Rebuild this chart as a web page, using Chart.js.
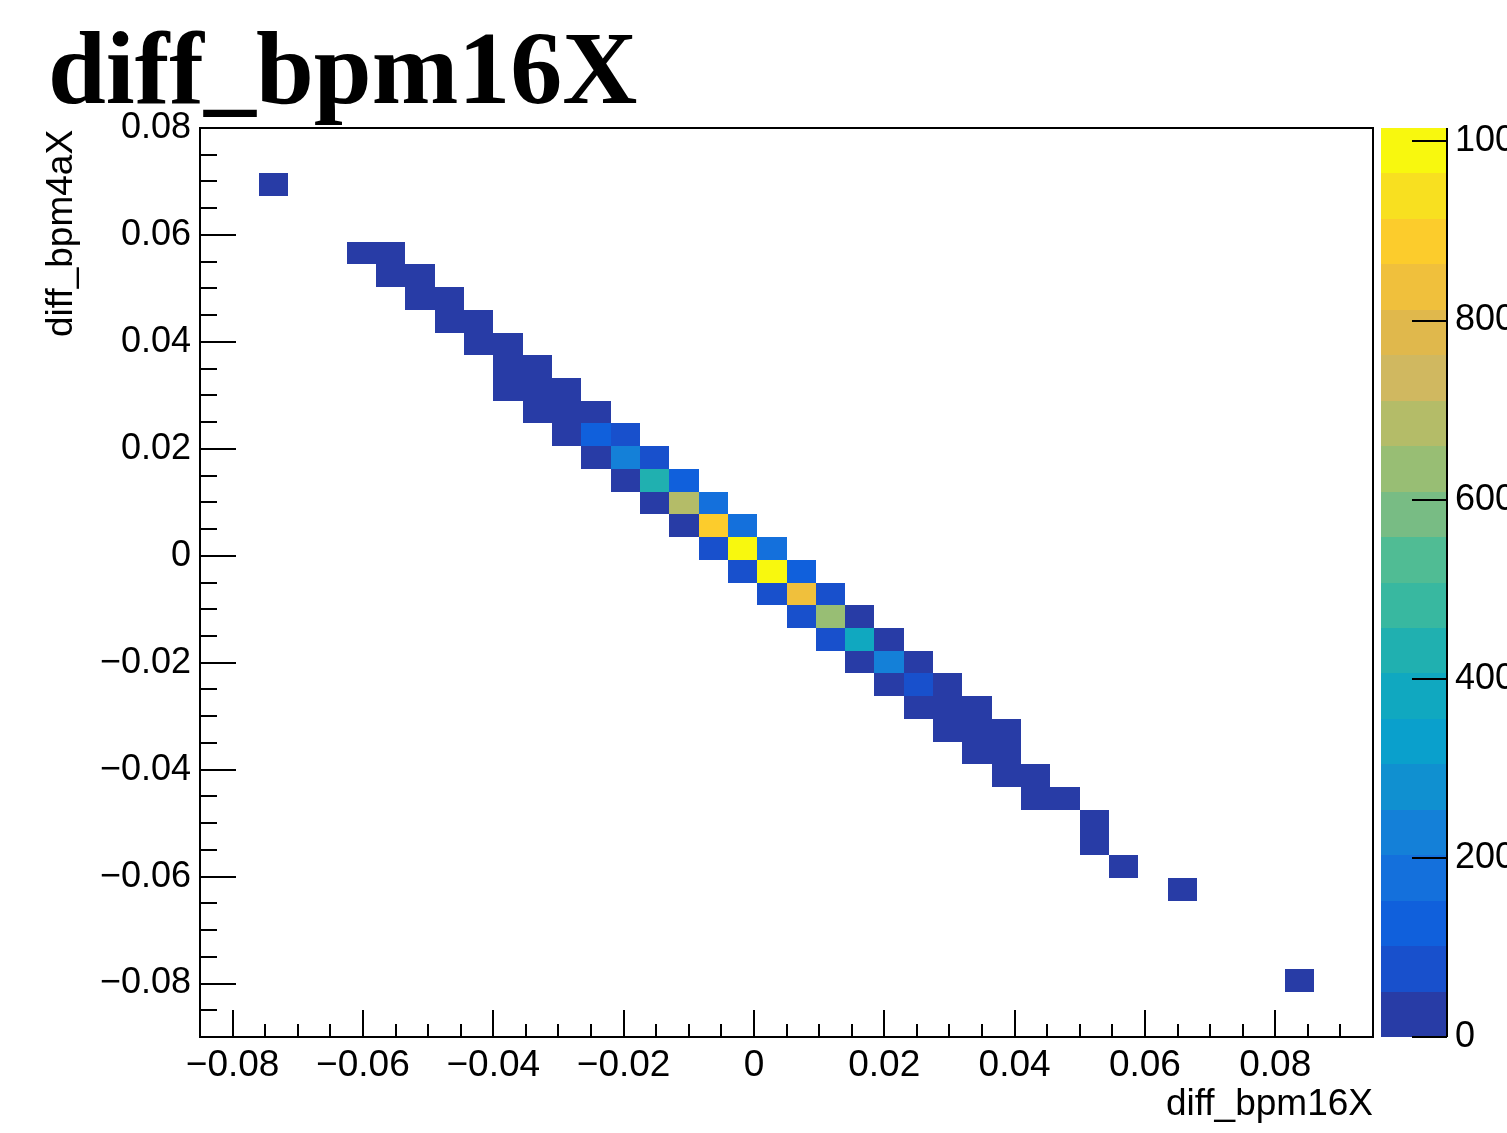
<!DOCTYPE html>
<html>
<head>
<meta charset="utf-8">
<script src="https://cdn.jsdelivr.net/npm/chart.js@4.4.1/dist/chart.umd.min.js"></script>
<style>
  body { margin: 0; background: #fff; }
  #wrap { width: 1507px; height: 1133px; }
</style>
</head>
<body>
<div id="wrap"><canvas id="c" width="1507" height="1133"></canvas></div>
<script>
// bin centres of the filled cells (diff_bpm16X, diff_bpm4aX) and their counts
var binX = [-0.07375,
  -0.06025, -0.05575,
  -0.05575, -0.05125,
  -0.05125, -0.04675,
  -0.04675, -0.04225,
  -0.04225, -0.03775,
  -0.03775, -0.03325,
  -0.03775, -0.03325, -0.02875,
  -0.03325, -0.02875, -0.02425,
  -0.02875, -0.02425, -0.01975,
  -0.02425, -0.01975, -0.01525,
  -0.01975, -0.01525, -0.01075,
  -0.01525, -0.01075, -0.00625,
  -0.01075, -0.00625, -0.00175,
  -0.00625, -0.00175, 0.00275,
  -0.00175, 0.00275, 0.00725,
  0.00275, 0.00725, 0.01175,
  0.00725, 0.01175, 0.01625,
  0.01175, 0.01625, 0.02075,
  0.01625, 0.02075, 0.02525,
  0.02075, 0.02525, 0.02975,
  0.02525, 0.02975, 0.03425,
  0.02975, 0.03425, 0.03875,
  0.03425, 0.03875,
  0.03875, 0.04325,
  0.04325, 0.04775,
  0.05225,
  0.05225,
  0.05675,
  0.06575,
  0.08375]
var binY = [0.069375,
  0.056625, 0.056625,
  0.052375, 0.052375,
  0.048125, 0.048125,
  0.043875, 0.043875,
  0.039625, 0.039625,
  0.035375, 0.035375,
  0.031125, 0.031125, 0.031125,
  0.026875, 0.026875, 0.026875,
  0.022625, 0.022625, 0.022625,
  0.018375, 0.018375, 0.018375,
  0.014125, 0.014125, 0.014125,
  0.009875, 0.009875, 0.009875,
  0.005625, 0.005625, 0.005625,
  0.001375, 0.001375, 0.001375,
  -0.002875, -0.002875, -0.002875,
  -0.007125, -0.007125, -0.007125,
  -0.011375, -0.011375, -0.011375,
  -0.015625, -0.015625, -0.015625,
  -0.019875, -0.019875, -0.019875,
  -0.024125, -0.024125, -0.024125,
  -0.028375, -0.028375, -0.028375,
  -0.032625, -0.032625, -0.032625,
  -0.036875, -0.036875,
  -0.041125, -0.041125,
  -0.045375, -0.045375,
  -0.049625,
  -0.053875,
  -0.058125,
  -0.062375,
  -0.079375]
var counts = [2,
  4, 6,
  8, 7,
  9, 10,
  12, 11,
  14, 13,
  16, 15,
  5, 18, 17,
  6, 22, 30,
  10, 125, 80,
  20, 230, 85,
  25, 430, 130,
  30, 690, 190,
  35, 890, 185,
  80, 1000, 180,
  75, 1010, 130,
  85, 840, 80,
  78, 640, 40,
  82, 380, 30,
  28, 225, 25,
  22, 90, 18,
  15, 14, 5,
  12, 11, 6,
  9, 8,
  7, 6,
  5, 4,
  3,
  2,
  2,
  1,
  1]
var binW = 0.0045, binH = 0.00425
var xTicks = [-0.08, -0.06, -0.04, -0.02, 0, 0.02, 0.04, 0.06, 0.08]
var yTicks = [-0.08, -0.06, -0.04, -0.02, 0, 0.02, 0.04, 0.06, 0.08]
var zTicks = [0, 200, 400, 600, 800, 1000]
var zMax = 1015

// kBird-like palette, 20 contour bands from bottom to top
var bandColors = ['#283ca6', '#1850cc', '#1060dc', '#1470dc', '#1480d8', '#1090d0', '#0aa0cc',
  '#10a8c0', '#20b0b0', '#38b8a0', '#50bc94', '#78bc84', '#98be74', '#b4bc68', '#d0b860',
  '#e0b84c', '#f0c03c', '#fccc2c', '#f8e020', '#f8f80e']

function colorFor(v) {
  var k = Math.floor(v / (zMax / bandColors.length))
  if (k > bandColors.length - 1) k = bandColors.length - 1
  return bandColors[k]
}
function fmt(v) {
  if (Math.abs(v) < 1e-9) return '0'
  return (v < 0 ? '\u2212' : '') + Math.abs(v).toFixed(2)
}

var sans = '"Liberation Sans", Arial, sans-serif'

var histPlugin = {
  id: 'hist',
  beforeDatasetsDraw: function(chart) {
    var ctx = chart.ctx, xs = chart.scales.x, ys = chart.scales.y, a = chart.chartArea
    ctx.save()
    ctx.beginPath(); ctx.rect(a.left, a.top, a.right - a.left, a.bottom - a.top); ctx.clip()
    for (var i = 0; i < counts.length; i++) {
      var x0 = xs.getPixelForValue(binX[i] - binW / 2), x1 = xs.getPixelForValue(binX[i] + binW / 2)
      var y0 = ys.getPixelForValue(binY[i] + binH / 2), y1 = ys.getPixelForValue(binY[i] - binH / 2)
      ctx.fillStyle = colorFor(counts[i])
      ctx.fillRect(Math.round(x0), Math.round(y0), Math.round(x1) - Math.round(x0), Math.round(y1) - Math.round(y0))
    }
    ctx.restore()
  },
  afterDraw: function(chart) {
    var ctx = chart.ctx, xs = chart.scales.x, ys = chart.scales.y, zs = chart.scales.z, a = chart.chartArea
    ctx.save()
    ctx.strokeStyle = '#000'
    ctx.lineWidth = 2
    ctx.strokeRect(a.left, a.top, a.right - a.left, a.bottom - a.top)
    // ticks inside the frame
    ctx.beginPath()
    for (var t = -85; t <= 95; t += 5) {
      var px = Math.round(xs.getPixelForValue(t / 1000))
      var len = (t % 20 === 0) ? 27 : 13
      ctx.moveTo(px, a.bottom); ctx.lineTo(px, a.bottom - len)
    }
    for (var t2 = -90; t2 <= 80; t2 += 5) {
      var py = Math.round(ys.getPixelForValue(t2 / 1000))
      var len2 = (t2 % 20 === 0) ? 36 : 17
      ctx.moveTo(a.left, py); ctx.lineTo(a.left + len2, py)
    }
    ctx.stroke()

    // colour bar
    var cbL = 1381, cbR = 1447
    var n = bandColors.length
    for (var k = 0; k < n; k++) {
      var yb = zs.getPixelForValue(k * zMax / n), yt = zs.getPixelForValue((k + 1) * zMax / n)
      ctx.fillStyle = bandColors[k]
      ctx.fillRect(cbL, Math.round(yt), cbR - cbL, Math.round(yb) - Math.round(yt))
    }
    ctx.beginPath()
    ctx.moveTo(cbR, a.top); ctx.lineTo(cbR, a.bottom)
    zTicks.forEach(function(z) {
      var y = Math.round(zs.getPixelForValue(z))
      ctx.moveTo(cbR, y); ctx.lineTo(cbR - 35, y)
    })
    ctx.stroke()

    // y axis title (partly under the title box, as in the picture)
    ctx.save()
    ctx.beginPath(); ctx.rect(0, 128, 200, 1000); ctx.clip()
    ctx.translate(72, 337)
    ctx.rotate(-Math.PI / 2)
    ctx.fillStyle = '#000'
    ctx.font = '37px ' + sans
    ctx.textAlign = 'left'
    ctx.textBaseline = 'alphabetic'
    ctx.fillText('diff_bpm4aX', 0, 0)
    ctx.restore()

    // histogram title
    ctx.fillStyle = '#000'
    ctx.font = 'bold 104px "Liberation Serif", "Times New Roman", serif'
    ctx.textAlign = 'left'
    ctx.textBaseline = 'alphabetic'
    ctx.fillText('diff_bpm16X', 48, 103)
    ctx.restore()
  }
}

function noPad(s) { s.paddingTop = 0; s.paddingBottom = 0 }

new Chart(document.getElementById('c'), {
  type: 'scatter',
  data: {
    datasets: [{
      label: 'diff_bpm16X',
      data: binX.map(function(x, i) { return { x: x, y: binY[i] } }),
      pointRadius: 0,
      pointHoverRadius: 0
    }]
  },
  options: {
    responsive: false,
    animation: false,
    events: [],
    layout: { padding: { top: 128, left: 0, right: 0, bottom: 0 } },
    plugins: { legend: { display: false }, tooltip: { enabled: false } },
    scales: {
      x: {
        type: 'linear', position: 'bottom', min: -0.085, max: 0.095,
        afterBuildTicks: function(s) { s.ticks = xTicks.map(function(v) { return { value: v } }) },
        afterFit: function(s) { s.height = 96 },
        grid: { display: false, drawTicks: false },
        border: { display: false },
        ticks: {
          color: '#000', font: { family: sans, size: 37 }, padding: 7,
          maxRotation: 0, autoSkip: false, callback: function(v) { return fmt(v) }
        },
        title: {
          display: true, text: 'diff_bpm16X', align: 'end', color: '#000',
          font: { family: sans, size: 37 }, padding: { top: 0, bottom: 6 }
        }
      },
      y: {
        type: 'linear', position: 'left', min: -0.09, max: 0.08,
        afterBuildTicks: function(s) { s.ticks = yTicks.map(function(v) { return { value: v } }) },
        afterFit: function(s) { s.width = 200; noPad(s) },
        grid: { display: false, drawTicks: false },
        border: { display: false },
        ticks: {
          color: '#000', font: { family: sans, size: 36 }, padding: 9,
          autoSkip: false, callback: function(v) { return fmt(v) }
        }
      },
      z: {
        type: 'linear', position: 'right', min: 0, max: zMax,
        afterBuildTicks: function(s) { s.ticks = zTicks.map(function(v) { return { value: v } }) },
        afterFit: function(s) { s.width = 134; noPad(s) },
        grid: { display: false, drawTicks: false },
        border: { display: false },
        ticks: {
          color: '#000', font: { family: sans, size: 36 }, padding: 82, autoSkip: false,
          callback: function(v) { return String(v) }
        }
      }
    }
  },
  plugins: [histPlugin]
})
</script>
</body>
</html>
